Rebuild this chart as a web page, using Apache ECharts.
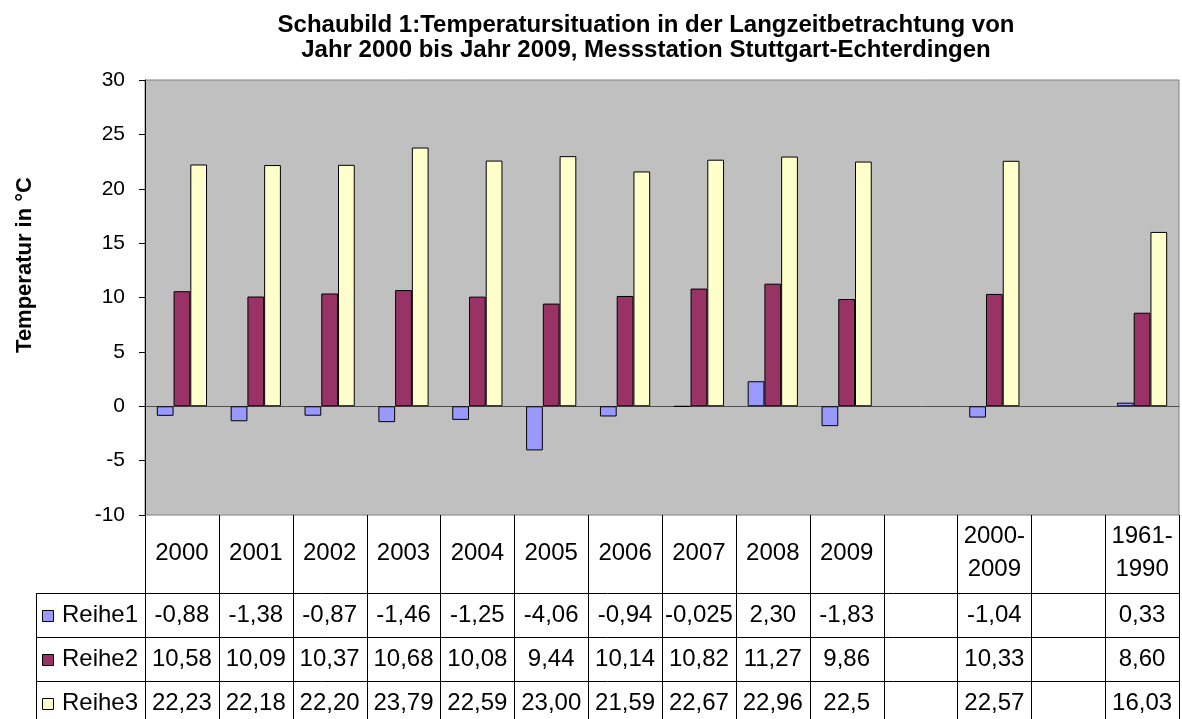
<!DOCTYPE html>
<html>
<head>
<meta charset="utf-8">
<script src="https://cdn.jsdelivr.net/npm/echarts@6/dist/echarts.min.js"></script>
<style>
html, body { margin: 0; padding: 0; background: #fff; }
#chart { width: 1182px; height: 719px; }
</style>
</head>
<body>
<div id="chart"></div>
<script>
// Spalten der Datentabelle (mit Leerspalten wie im Original)
var categories = ['2000', '2001', '2002', '2003', '2004', '2005', '2006', '2007', '2008', '2009',
  ' ', '2000-\n2009', '  ', '1961-\n1990'];
var seriesNames = ['Reihe1', 'Reihe2', 'Reihe3'];
// Werte so, wie sie in der Tabelle stehen
var reihe1 = ['-0,88', '-1,38', '-0,87', '-1,46', '-1,25', '-4,06', '-0,94', '-0,025', '2,30', '-1,83', '', '-1,04', '', '0,33'];
var reihe2 = ['10,58', '10,09', '10,37', '10,68', '10,08', '9,44', '10,14', '10,82', '11,27', '9,86', '', '10,33', '', '8,60'];
var reihe3 = ['22,23', '22,18', '22,20', '23,79', '22,59', '23,00', '21,59', '22,67', '22,96', '22,5', '', '22,57', '', '16,03'];
var yMin = -10, yMax = 30, yStep = 5;
var colors = ['#9999FF', '#993366', '#FFFFCC'];

var FONT = 'Liberation Sans, Arial, sans-serif';
var rows = [reihe1, reihe2, reihe3];

function toNum(s) {
  return s === '' ? null : parseFloat(s.replace(',', '.'));
}

var myChart = echarts.init(document.getElementById('chart'));

myChart.setOption({
  animation: false,
  grid: {
    left: 145, right: 3, top: 80, bottom: 204,
    show: true,
    backgroundColor: '#C0C0C0',
    borderColor: '#808080',
    borderWidth: 1
  },
  xAxis: {
    type: 'category',
    data: categories,
    axisLabel: { show: false },
    axisTick: { show: false },
    axisLine: { onZero: true, lineStyle: { color: '#505050', width: 1 } }
  },
  yAxis: {
    type: 'value',
    min: yMin, max: yMax, interval: yStep,
    axisLine: { show: true, onZero: false, lineStyle: { color: '#000', width: 1 } },
    axisTick: { show: true, length: 6, lineStyle: { color: '#000' } },
    axisLabel: { fontSize: 21, color: '#000', fontFamily: FONT, margin: 20 },
    splitLine: { show: false }
  },
  series: seriesNames.map(function (name, k) {
    return {
      name: name,
      type: 'bar',
      barGap: '0%',
      barCategoryGap: '32%',
      data: rows[k].map(toNum),
      itemStyle: { color: colors[k], borderColor: '#000', borderWidth: 1 }
    };
  })
});

// Tabelle unter dem Diagramm aus den Achsenpositionen aufbauen
function buildTable() {
  var c0 = myChart.convertToPixel({ xAxisIndex: 0 }, 0);
  var c1 = myChart.convertToPixel({ xAxisIndex: 0 }, 1);
  var colW = c1 - c0;
  var left = c0 - colW / 2;
  var right = left + colW * categories.length;
  var top = myChart.convertToPixel({ yAxisIndex: 0 }, yMin);
  var headH = 78, rowH = 44;
  var tableLeft = 36;
  var rowTop = top + headH;
  var bottom = rowTop + rowH * 3;
  var els = [];
  var lineStyle = { stroke: '#000', lineWidth: 1 };
  var cellFont = '24px ' + FONT;

  // senkrechte Linien
  for (var i = 0; i <= categories.length; i++) {
    var x = Math.round(left + i * colW) + 0.5;
    els.push({ type: 'line', shape: { x1: x, y1: top, x2: x, y2: bottom }, style: lineStyle });
  }
  els.push({ type: 'line', shape: { x1: tableLeft + 0.5, y1: rowTop, x2: tableLeft + 0.5, y2: bottom }, style: lineStyle });
  // waagrechte Linien
  for (var r = 0; r <= 3; r++) {
    var y = Math.round(rowTop + r * rowH) + 0.5;
    els.push({ type: 'line', shape: { x1: tableLeft, y1: y, x2: right, y2: y }, style: lineStyle });
  }
  // Kopfzeile
  categories.forEach(function (cat, i) {
    els.push({
      type: 'text', x: left + (i + 0.5) * colW, y: top + headH / 2 - 1,
      style: { text: cat.trim(), font: cellFont, fill: '#000', align: 'center', verticalAlign: 'middle', lineHeight: 33 }
    });
  });
  // Datenzeilen
  rows.forEach(function (vals, k) {
    var cy = rowTop + (k + 0.5) * rowH;
    els.push({
      type: 'rect', shape: { x: tableLeft + 6.5, y: Math.round(cy - 5) + 0.5, width: 11, height: 11 },
      style: { fill: colors[k], stroke: '#000', lineWidth: 1 }
    });
    els.push({
      type: 'text', x: tableLeft + 26, y: cy,
      style: { text: seriesNames[k], font: cellFont, fill: '#000', align: 'left', verticalAlign: 'middle' }
    });
    vals.forEach(function (v, i) {
      if (v === '') return;
      els.push({
        type: 'text', x: left + (i + 0.5) * colW, y: cy,
        style: { text: v, font: cellFont, fill: '#000', align: 'center', verticalAlign: 'middle' }
      });
    });
  });
  // Titel und Achsentitel
  els.push({
    type: 'text', x: 646, y: 38,
    style: {
      text: 'Schaubild 1:Temperatursituation in der Langzeitbetrachtung von\nJahr 2000 bis Jahr 2009, Messstation Stuttgart-Echterdingen',
      font: 'bold 24px ' + FONT, fill: '#000', align: 'center', verticalAlign: 'middle', lineHeight: 25
    }
  });
  els.push({
    type: 'text', x: 25, y: 265, rotation: Math.PI / 2,
    style: { text: 'Temperatur in °C', font: 'bold 22px ' + FONT, fill: '#000', align: 'center', verticalAlign: 'middle' }
  });
  myChart.setOption({ graphic: els });
}
buildTable();

window.addEventListener('resize', function () {
  myChart.resize();
  buildTable();
});
</script>
</body>
</html>
